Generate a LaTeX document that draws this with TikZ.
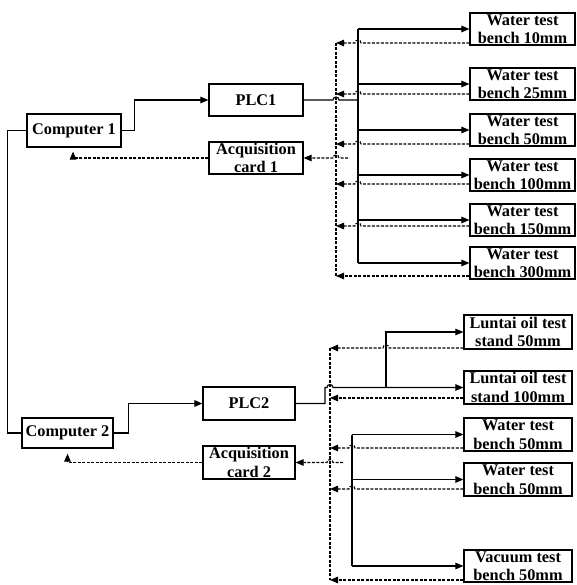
\documentclass[tikz,border=0pt]{standalone}
\usepackage{fontspec}
\setmainfont{Liberation Serif}
\usetikzlibrary{arrows.meta}
\begin{document}
\begin{tikzpicture}[x=1pt,y=-1pt,
  >={Triangle[length=8pt,width=6.5pt]},
  bx/.style={draw,line width=1.2pt,inner sep=0pt,align=center,minimum height=32pt,
    font=\bfseries\fontsize{16.3}{18.5}\selectfont},
  ln/.style={line width=1.1pt},
  dsh/.style={line width=1.1pt,dash pattern=on 3pt off 1.5pt}]
\useasboundingbox (0,0) rectangle (576,585);

% ---------- top group ----------
\node[bx,minimum width=94pt,minimum height=33pt] (c1) at (74,130.5) {Computer 1};
\node[bx,minimum width=94pt] (plc1) at (256,100) {PLC1};
\node[bx,minimum width=94pt] (acq1) at (256,158) {Acquisition\\card 1};
\foreach \n/\y/\t in {w10/29/10mm,w25/84/25mm,w50/130/50mm,w100/175/100mm,w150/220/150mm,w300/263/300mm}
  \node[bx,minimum width=105pt] (\n) at (522.5,\y) {Water test\\bench \t};

% ---------- bottom group ----------
\node[bx,minimum width=91pt,minimum height=30pt] (c2) at (67.5,433) {Computer 2};
\node[bx,minimum width=92pt,minimum height=33pt] (plc2) at (249,403.5) {PLC2};
\node[bx,minimum width=92pt,minimum height=33pt] (acq2) at (249,462.5) {Acquisition\\card 2};
\node[bx,minimum width=108pt,minimum height=34pt] (l50) at (518,332) {Luntai oil test\\stand 50mm};
\node[bx,minimum width=108pt,minimum height=33pt] (l100) at (518,387.5) {Luntai oil test\\stand 100mm};
\node[bx,minimum width=108pt,minimum height=33pt] (wb1) at (518,434.5) {Water test\\bench 50mm};
\node[bx,minimum width=108pt,minimum height=33pt] (wb2) at (518,479.5) {Water test\\bench 50mm};
\node[bx,minimum width=108pt,minimum height=32pt] (vac) at (518,566) {Vacuum test\\bench 50mm};

% ---------- computer links ----------
\draw[ln] (c1.west) -- ++(-19,0) |- (c2.west);
\draw[ln,->] (c1.east) -- ++(13,0) |- (plc1.west);
\draw[ln,->] (c2.east) -- ++(15,0) |- (plc2.west);
\draw[dsh,->] (acq1.west) -| ([xshift=-1pt,yshift=-4pt]c1.south);
\draw[dsh,->] (acq2.west) -| ([yshift=-5pt]c2.south);

% ---------- top buses ----------
\coordinate (b1) at (358,0);
\coordinate (b2) at (336,0);
\draw[ln] (plc1.east) -- (333,100) .. controls +(0,-4) and +(0,-4) .. (339,100) -- (b1 |- plc1);
\draw[ln] (b1 |- w10) -- (b1 |- w300);
\foreach \n in {w10,w25,w50,w100,w150,w300}
  \draw[ln,->] (b1 |- \n) -- (\n.west);
\foreach \n/\y in {w10/43,w25/94,w50/144,w100/184,w150/226}{
  \coordinate (hy) at (0,\y);
  \draw[dsh,->] (\n.west |- hy) -- (361,\y) .. controls +(0,-4) and +(0,-4) .. (355,\y) -- (b2 |- hy);
}
\coordinate (hy) at (0,276);
\draw[dsh,->] (w300.west |- hy) -- (b2 |- hy);
\draw[dsh] (336,43) -- (336,276);
\coordinate (a1) at (348,158);
\draw[dsh,->] (a1) -- (339,158) .. controls +(0,-4) and +(0,-4) .. (333,158) -- (acq1.east);

% ---------- bottom buses ----------
\coordinate (b3) at (352,0);
\coordinate (b4) at (330,0);
\draw[ln,->] (plc2.east) -- (325,403.5) -- (325,387.5) -- (327,387.5)
  .. controls +(0,-4) and +(0,-4) .. (333,387.5) -- (l100.west);
\coordinate (j1) at (386,387.5);
\draw[ln,->] (j1) |- (l50.west);
\draw[ln] (b3 |- wb1) -- (b3 |- vac);
\foreach \n in {wb1,wb2,vac}
  \draw[ln,->] (b3 |- \n) -- (\n.west);
\coordinate (hy) at (0,348);
\draw[dsh,->] (l50.west |- hy) -- (389,348) .. controls +(0,-4) and +(0,-4) .. (383,348) -- (b4 |- hy);
\coordinate (hy) at (0,398);
\draw[dsh,->] (l100.west |- hy) -- (b4 |- hy);
\foreach \n/\y in {wb1/448,wb2/489}{
  \coordinate (hy) at (0,\y);
  \draw[dsh,->] (\n.west |- hy) -- (355,\y) .. controls +(0,-4) and +(0,-4) .. (349,\y) -- (b4 |- hy);
}
\coordinate (hy) at (0,580);
\draw[dsh,->] (vac.west |- hy) -- (b4 |- hy);
\draw[dsh] (330,348) -- (330,580);
\coordinate (a2) at (343,462.5);
\draw[dsh,->] (a2) -- (333,462.5) .. controls +(0,-4) and +(0,-4) .. (327,462.5) -- (acq2.east);
\end{tikzpicture}
\end{document}
